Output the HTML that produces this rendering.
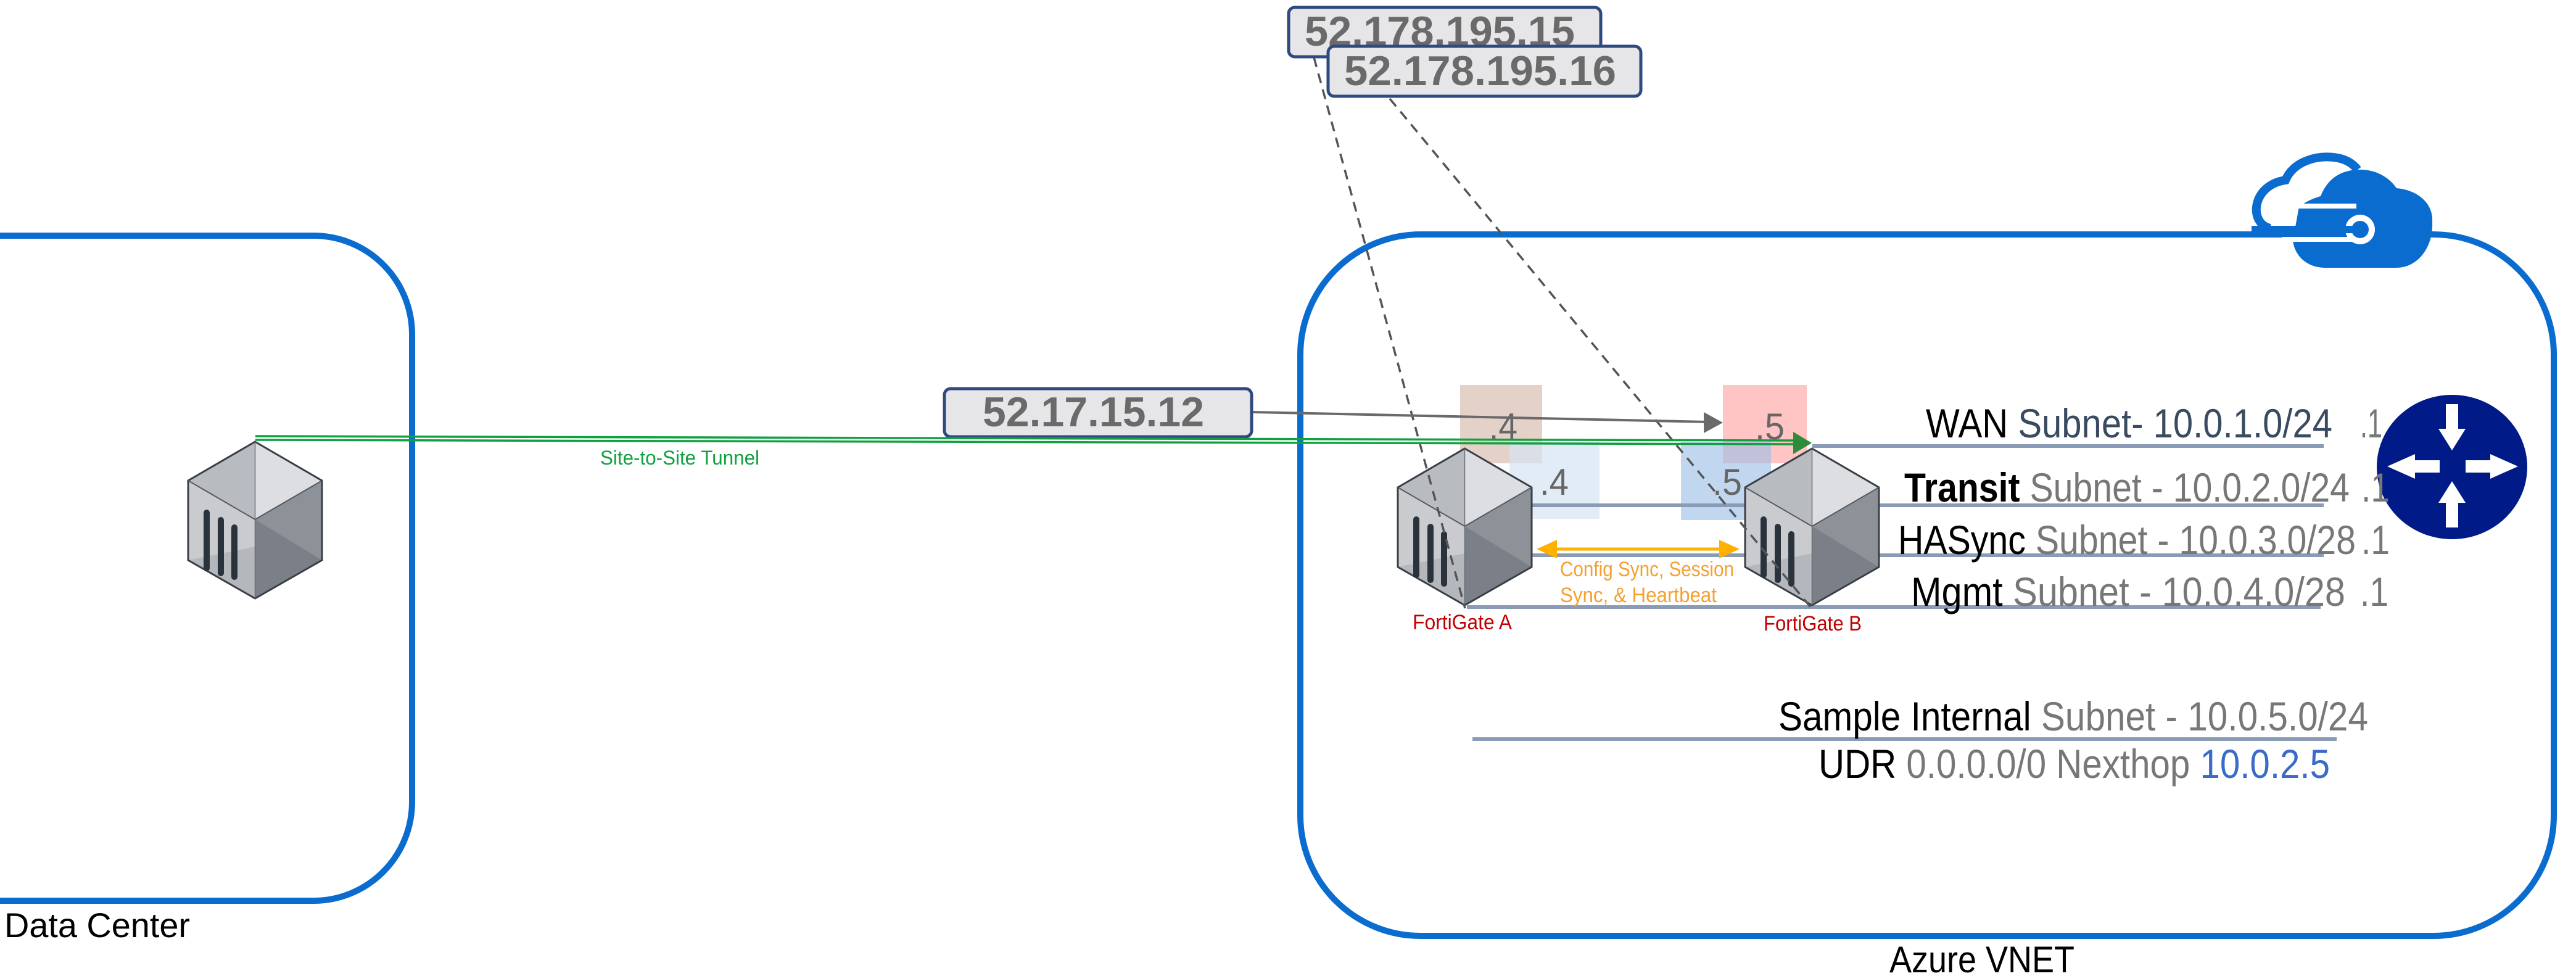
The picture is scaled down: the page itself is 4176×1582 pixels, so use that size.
<!DOCTYPE html>
<html><head><meta charset="utf-8"><style>html,body{margin:0;padding:0;background:#fff}svg{display:block}text{font-family:"Liberation Sans Narrow","Liberation Sans",sans-serif}</style></head>
<body>
<svg width="4176" height="1582" viewBox="0 0 4176 1582" xmlns="http://www.w3.org/2000/svg">
<defs>
<g id="cube">
<polygon points="108.5,0 0,63 108.5,126" fill="#b8bbc0"/>
<polygon points="108.5,0 217,63 108.5,126" fill="#dcdee1"/>
<polygon points="0,63 108.5,126 108.5,254 0,192" fill="#c9cbcf"/>
<polygon points="0,192 108.5,170 108.5,254" fill="#b4b7bc"/>
<polygon points="108.5,126 217,63 217,192 108.5,254" fill="#8d9198"/>
<polygon points="108.5,126 217,192 108.5,254" fill="#7b7f87"/>
<polygon points="108.5,0 217,63 217,192 108.5,254 0,192 0,63" fill="none" stroke="#3a3f47" stroke-width="3"/>
<line x1="0" y1="63" x2="108.5" y2="126" stroke="#555a62" stroke-width="2"/>
<line x1="217" y1="63" x2="108.5" y2="126" stroke="#555a62" stroke-width="2"/>
<line x1="108.5" y1="0" x2="108.5" y2="254" stroke="#6a6e76" stroke-width="1.5"/>
<rect x="25" y="110" width="10" height="100" rx="5" fill="#2a323c"/>
<rect x="48" y="122" width="10" height="96" rx="5" fill="#2a323c"/>
<rect x="70" y="134" width="10" height="90" rx="5" fill="#2a323c"/>
</g>
</defs>

<path d="M-20,382 H510 A160,160 0 0 1 668,540 V1300 A160,160 0 0 1 510,1460 H-20" fill="none" stroke="#0a6ccf" stroke-width="10"/>
<text x="7" y="1519" font-size="56" fill="#000" textLength="301" lengthAdjust="spacingAndGlyphs">Data Center</text>

<path d="M2303,380 H3945 A195,195 0 0 1 4140,575 V1322 A195,195 0 0 1 3945,1517 H2303 A195,195 0 0 1 2108,1322 V575 A195,195 0 0 1 2303,380 Z" fill="none" stroke="#0a6ccf" stroke-width="10"/>
<text x="3063" y="1576" font-size="60" fill="#000" textLength="300" lengthAdjust="spacingAndGlyphs">Azure VNET</text>

<!-- Cloud icon -->
<path d="M3680,370 C3645,362 3650,300 3705,292 C3718,262 3755,250 3790,256 C3805,259 3815,266 3822,275" fill="none" stroke="#0a6ccf" stroke-width="14"/>
<path d="M3727,335 C3740,325 3755,320 3762,318 C3775,285 3800,275 3826,275 C3855,275 3875,290 3885,305 C3920,308 3945,330 3943,360 C3945,400 3920,434 3885,434 H3770 C3740,434 3720,415 3717,390 Z" fill="#0a6ccf"/>
<rect x="3700" y="330" width="120" height="8" fill="#fff"/>
<rect x="3700" y="384" width="120" height="8" fill="#fff"/>
<circle cx="3826" cy="372" r="24" fill="#fff"/>
<circle cx="3826" cy="372" r="14" fill="#0a6ccf"/>
<rect x="3650" y="366" width="176" height="12" fill="#0a6ccf"/>

<ellipse cx="3975" cy="757" rx="122" ry="117" fill="#001a88"/>
<g fill="#fff">
<polygon points="3965,655 3985,655 3985,695 3997,695 3975,730 3953,695 3965,695"/>
<polygon points="3965,855 3985,855 3985,815 3997,815 3975,780 3953,815 3965,815"/>
<polygon points="3955,746 3955,766 3915,766 3915,776 3870,756 3915,736 3915,746"/>
<polygon points="3997,746 3997,766 4037,766 4037,776 4082,756 4037,736 4037,746"/>
</g>

<rect x="2367" y="624" width="133" height="127" fill="#d8bfb2" opacity="0.7"/>
<rect x="2793" y="624" width="136" height="127" fill="#ffb0b0" opacity="0.75"/>
<rect x="2447" y="716" width="146" height="125" fill="#d5e4f3" opacity="0.7"/>
<rect x="2725" y="716" width="146" height="127" fill="#9fc1e6" opacity="0.65"/>

<text x="2414" y="712" font-size="60" fill="#666" textLength="46" lengthAdjust="spacingAndGlyphs">.4</text>
<text x="2845" y="712" font-size="60" fill="#666" textLength="48" lengthAdjust="spacingAndGlyphs">.5</text>
<text x="2496" y="802" font-size="60" fill="#666" textLength="47" lengthAdjust="spacingAndGlyphs">.4</text>
<text x="2776" y="802" font-size="60" fill="#666" textLength="48" lengthAdjust="spacingAndGlyphs">.5</text>

<g stroke="#8a9bb5" stroke-width="6">
<line x1="2938" y1="723" x2="3767" y2="723"/>
<line x1="2483" y1="819" x2="3767" y2="819"/>
<line x1="2483" y1="900" x2="3767" y2="900"/>
<line x1="2378" y1="984" x2="3762" y2="984"/>
<line x1="2387" y1="1198" x2="3788" y2="1198"/>
</g>

<use href="#cube" x="305" y="716"/>
<use href="#cube" x="2266" y="727"/>
<use href="#cube" x="2829" y="727"/>

<g stroke="#555" stroke-width="3.5" stroke-dasharray="16,11" fill="none">
<line x1="2130" y1="93" x2="2375" y2="986"/>
<line x1="2253" y1="160" x2="2940" y2="990"/>
</g>

<rect x="2089" y="12" width="506" height="80" rx="10" fill="#e6e6e8" stroke="#2f4a80" stroke-width="5"/>
<text x="2115" y="74" font-size="68" font-weight="bold" fill="#6a6a6a" textLength="438" lengthAdjust="spacingAndGlyphs">52.178.195.15</text>
<rect x="2153" y="75" width="507" height="81" rx="10" fill="#e6e6e8" stroke="#2f4a80" stroke-width="5"/>
<text x="2179" y="138" font-size="68" font-weight="bold" fill="#6a6a6a" textLength="441" lengthAdjust="spacingAndGlyphs">52.178.195.16</text>

<rect x="1531" y="630" width="498" height="78" rx="10" fill="#e6e6e8" stroke="#2f4a80" stroke-width="5"/>
<text x="1593" y="691" font-size="68" font-weight="bold" fill="#6a6a6a" textLength="359" lengthAdjust="spacingAndGlyphs">52.17.15.12</text>
<line x1="2031" y1="668" x2="2770" y2="684" stroke="#6a6a6a" stroke-width="4"/>
<polygon points="2793,685 2762,668 2762,702" fill="#6a6a6a"/>

<line x1="414" y1="707" x2="2910" y2="714" stroke="#10a040" stroke-width="3.5"/>
<line x1="414" y1="713" x2="2910" y2="720" stroke="#10a040" stroke-width="3.5"/>
<polygon points="2937,718 2907,700 2907,736" fill="#2e8b3a"/>
<text x="973" y="753" font-size="32" fill="#10a040" textLength="258" lengthAdjust="spacingAndGlyphs">Site-to-Site Tunnel</text>

<line x1="2515" y1="890" x2="2800" y2="890" stroke="#ffb000" stroke-width="5"/>
<polygon points="2491,890 2524,875 2524,905" fill="#ffb000"/>
<polygon points="2820,890 2787,875 2787,905" fill="#ffb000"/>
<text x="2529" y="934" font-size="34" fill="#f5a030" textLength="282" lengthAdjust="spacingAndGlyphs">Config Sync, Session</text>
<text x="2529" y="976" font-size="34" fill="#f5a030" textLength="254" lengthAdjust="spacingAndGlyphs">Sync, &amp; Heartbeat</text>

<text x="2290" y="1020" font-size="34" fill="#c00000" textLength="161" lengthAdjust="spacingAndGlyphs">FortiGate A</text>
<text x="2859" y="1022" font-size="34" fill="#c00000" textLength="159" lengthAdjust="spacingAndGlyphs">FortiGate B</text>

<text x="3122" y="709" font-size="66" fill="#3a4a60" textLength="659" lengthAdjust="spacingAndGlyphs"><tspan fill="#000">WAN</tspan> Subnet- 10.0.1.0/24</text>
<text x="3826" y="709" font-size="66" fill="#777" textLength="36" lengthAdjust="spacingAndGlyphs">.1</text>
<text x="3087" y="813" font-size="66" fill="#777" textLength="722" lengthAdjust="spacingAndGlyphs"><tspan fill="#000" font-weight="bold">Transit</tspan> Subnet - 10.0.2.0/24</text>
<text x="3828" y="813" font-size="66" fill="#777" textLength="46" lengthAdjust="spacingAndGlyphs">.1</text>
<text x="3077" y="898" font-size="66" fill="#777" textLength="742" lengthAdjust="spacingAndGlyphs"><tspan fill="#000">HASync</tspan> Subnet - 10.0.3.0/28</text>
<text x="3828" y="898" font-size="66" fill="#777" textLength="46" lengthAdjust="spacingAndGlyphs">.1</text>
<text x="3098" y="982" font-size="66" fill="#777" textLength="704" lengthAdjust="spacingAndGlyphs"><tspan fill="#000">Mgmt</tspan> Subnet - 10.0.4.0/28</text>
<text x="3826" y="982" font-size="66" fill="#777" textLength="46" lengthAdjust="spacingAndGlyphs">.1</text>
<text x="2883" y="1184" font-size="66" fill="#777" textLength="956" lengthAdjust="spacingAndGlyphs"><tspan fill="#000">Sample Internal</tspan> Subnet - 10.0.5.0/24</text>
<text x="2948" y="1261" font-size="66" fill="#777" textLength="829" lengthAdjust="spacingAndGlyphs"><tspan fill="#000">UDR</tspan> 0.0.0.0/0 Nexthop <tspan fill="#3a6bc9">10.0.2.5</tspan></text>
</svg>
</body></html>
